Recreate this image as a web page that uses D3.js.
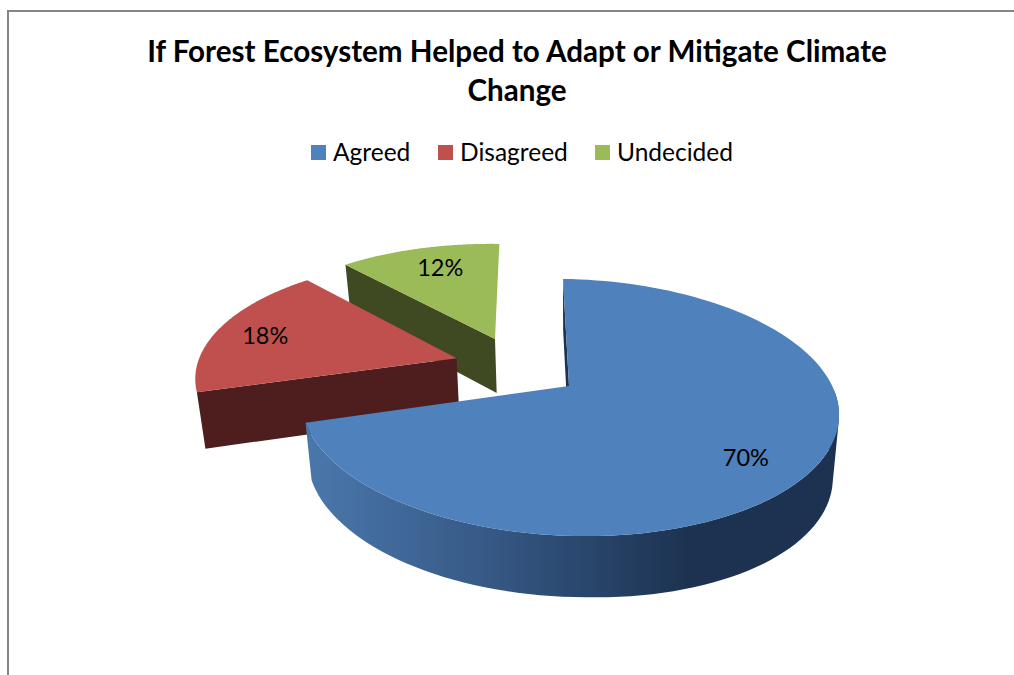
<!DOCTYPE html>
<html>
<head>
<meta charset="utf-8">
<script src="https://cdn.jsdelivr.net/npm/d3@7"></script>
<style>
    html, body { margin: 0; background: #fff; overflow: hidden; }
    text { font-family: Lato, "Open Sans", sans-serif; fill: #000; }
</style>
</head>
<body>
<div id="chart"></div>
<script>
const categories = ["Agreed", "Disagreed", "Undecided"];
const shares = [70, 18, 12];
const titleLines = ["If Forest Ecosystem Helped to Adapt or Mitigate Climate", "Change"];

const topColors = ["#4f81bd", "#c0504d", "#9bbb59"];
const wallColors = ["#1c3250", "#4d1e1d", "#3f4a22"];

const width = 1014;
const height = 675;

// perspective of the pie plane, fitted to the picture
const view = { cx: 569, cy: 386, rx: 265, ry: 125, persp: 0.167, skew: 7, tilt: 4, shrink: 0.977 };
const explodeU = 0.244;
const explodeV = 0.258;
const labelRadius = 0.75;
const labelNudge = [[0, 10], [-13, 1], [4, -1]];

function project(u, v, bottom) {
    const s = 1 / (1 - view.persp * v);
    let x = view.cx + (view.rx * u + view.skew * v) * s;
    let y = view.cy + (view.ry * v + view.tilt * u) * s;
    if (bottom) {
        x = view.cx + (x - view.cx) * view.shrink;
        y += 56 + 5 * v + 6 * Math.max(0, u); // thickness grows towards the viewer and the right
    }
    return [x, y];
}

const dir = a => [Math.sin(a), -Math.cos(a)];

const svg = d3.select("#chart").append("svg")
    .attr("width", width)
    .attr("height", height)
    .style("display", "block");

// frame, only top and left edges are in the shot
svg.append("path")
    .attr("d", `M8,${height}V11H${width}`)
    .attr("fill", "none")
    .attr("stroke", "#868686")
    .attr("stroke-width", 2);

// title
svg.selectAll(".title")
    .data(titleLines)
    .join("text")
    .attr("class", "title")
    .attr("x", 517)
    .attr("y", (d, i) => 62 + i * 39)
    .attr("text-anchor", "middle")
    .style("font-size", "29.6px")
    .style("font-weight", 700)
    .text(d => d);

// legend
const legendX = [311, 438, 595];
const legend = svg.selectAll(".legend")
    .data(categories)
    .join("g")
    .attr("class", "legend")
    .attr("transform", (d, i) => `translate(${legendX[i]},145)`);
legend.append("rect")
    .attr("width", 15)
    .attr("height", 15)
    .attr("fill", (d, i) => topColors[i]);
legend.append("text")
    .attr("x", 22)
    .attr("y", 16)
    .style("font-size", "24.5px")
    .text(d => d);

// side gradient of the big slice
const grad = svg.append("defs").append("linearGradient")
    .attr("id", "blueSide")
    .attr("gradientUnits", "userSpaceOnUse")
    .attr("x1", 310).attr("x2", 690).attr("y1", 0).attr("y2", 0);
grad.append("stop").attr("offset", "0%").attr("stop-color", "#4a77ab");
grad.append("stop").attr("offset", "45%").attr("stop-color", "#375a87");
grad.append("stop").attr("offset", "100%").attr("stop-color", "#1c3250");

const arcs = d3.pie().sort(null)(shares);
const mid = d => (d.startAngle + d.endAngle) / 2;
const line = d3.line();

// the pie is exploded from a common origin, so offsets are relative to the first slice
function slicePoint(d, a, r, bottom) {
    const m = dir(mid(d));
    const m0 = dir(mid(arcs[0]));
    const p = dir(a);
    return project(
        explodeU * (m[0] - m0[0]) + r * p[0],
        explodeV * (m[1] - m0[1]) + r * p[1],
        bottom
    );
}

function rimAngles(d) {
    return d3.range(0, 121).map(i => d.startAngle + (d.endAngle - d.startAngle) * i / 120);
}

// far slices first, big slice last
const order = [2, 1, 0];
order.forEach(i => {
    const d = arcs[i];
    const g = svg.append("g").attr("class", "slice");
    const rim = rimAngles(d);

    // only the wall at the start angle can be seen from this camera
    g.append("path")
        .attr("d", line([
            slicePoint(d, d.startAngle, 0), slicePoint(d, d.startAngle, 1),
            slicePoint(d, d.startAngle, 1, true), slicePoint(d, d.startAngle, 0, true)
        ]) + "Z")
        .attr("fill", wallColors[i]);

    if (i === 0) {
        // rim as quads in one path, all wound the same way so none cancel near the silhouette
        const quads = d3.pairs(rim.filter(a => dir(a)[1] > 0)).map(([a, b]) => {
            const q = [
                slicePoint(d, a, 1), slicePoint(d, b, 1),
                slicePoint(d, b, 1, true), slicePoint(d, a, 1, true)
            ];
            return line(d3.polygonArea(q) < 0 ? q.reverse() : q) + "Z";
        });
        g.append("path")
            .attr("class", "rim")
            .attr("d", quads.join(""))
            .attr("fill", "url(#blueSide)");
    }

    g.append("path")
        .attr("class", "top")
        .attr("d", line([slicePoint(d, 0, 0)].concat(rim.map(a => slicePoint(d, a, 1)))) + "Z")
        .attr("fill", topColors[i]);
});

// percentage labels
svg.selectAll(".pct")
    .data(arcs)
    .join("text")
    .attr("class", "pct")
    .attr("x", (d, i) => slicePoint(d, mid(d), labelRadius)[0] + labelNudge[i][0])
    .attr("y", (d, i) => slicePoint(d, mid(d), labelRadius)[1] + labelNudge[i][1] + 8)
    .attr("text-anchor", "middle")
    .style("font-size", "23.5px")
    .text(d => d.data + "%");
</script>
</body>
</html>
